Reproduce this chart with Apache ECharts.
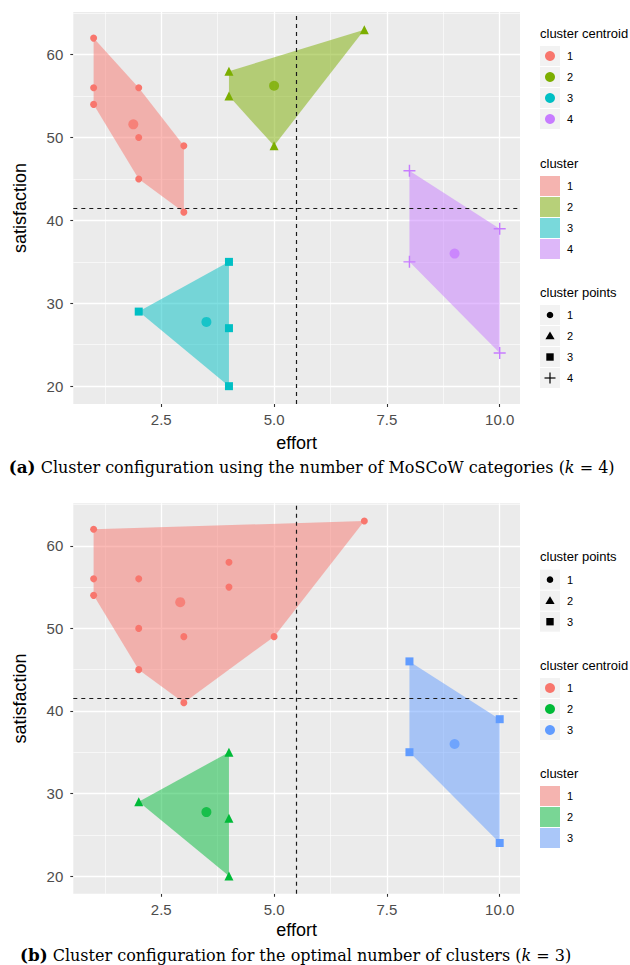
<!DOCTYPE html>
<html>
<head>
<meta charset="utf-8">
<script src="https://cdn.jsdelivr.net/npm/echarts@6/dist/echarts.min.js"></script>
<style>
  html, body { margin: 0; padding: 0; background: #fff; }
  #chart { width: 630px; height: 965px; }
</style>
</head>
<body>
<div id="chart"></div>
<script>
// axis breaks
const xTicks = [2.5, 5, 7.5, 10];
const xTickLabels = ['2.5', '5.0', '7.5', '10.0'];
const yTicks = [20, 30, 40, 50, 60];
const xMinor = [1.25, 3.75, 6.25, 8.75];
const yMinor = [25, 35, 45, 55, 65];
const cutEffort = 5.5;
const cutSatisfaction = 41.5;

// (a) k = 4, points per cluster as [effort, satisfaction]
const clusterA1 = [[1, 62], [1, 56], [1, 54], [2, 56], [2, 50], [2, 45], [3, 49], [3, 41]];
const clusterA2 = [[4, 58], [4, 55], [5, 49], [7, 63]];
const clusterA3 = [[4, 35], [2, 29], [4, 27], [4, 20]];
const clusterA4 = [[8, 46], [8, 35], [10, 39], [10, 24]];
const centroidsA = [[1.88, 51.6], [5, 56.25], [3.5, 27.75], [9, 36]];
const namesA = ['1', '2', '3', '4'];

// (b) k = 3
const clusterB1 = [[1, 62], [1, 56], [1, 54], [2, 56], [2, 50], [2, 45], [3, 49], [3, 41],
  [4, 58], [4, 55], [5, 49], [7, 63]];
const clusterB2 = [[4, 35], [2, 29], [4, 27], [4, 20]];
const clusterB3 = [[8, 46], [8, 35], [10, 39], [10, 24]];
const centroidsB = [[2.92, 53.17], [3.5, 27.75], [9, 36]];
const namesB = ['1', '2', '3'];

const huesA = ['#F8766D', '#7CAE00', '#00BFC4', '#C77CFF'];
const huesB = ['#F8766D', '#00BA38', '#619CFF'];
const PLUS = 'path://M4.4,0H5.6V4.4H10V5.6H5.6V10H4.4V5.6H0V4.4H4.4Z';
const shapes = ['circle', 'triangle', 'rect', PLUS];
const shapeSize = [7, 9, 8, 12];
const FONT = '"Liberation Sans", Arial, sans-serif';
const SERIF = '"DejaVu Serif", serif';

function alpha(hex, a) {
  const n = parseInt(hex.slice(1), 16);
  return `rgba(${n >> 16},${(n >> 8) & 255},${n & 255},${a})`;
}

// convex hull, monotone chain
function hull(points) {
  const p = points.slice().sort((a, b) => a[0] - b[0] || a[1] - b[1]);
  const cross = (o, a, b) => (a[0] - o[0]) * (b[1] - o[1]) - (a[1] - o[1]) * (b[0] - o[0]);
  const lower = [];
  p.forEach((pt) => {
    while (lower.length >= 2 && cross(lower[lower.length - 2], lower[lower.length - 1], pt) <= 0) lower.pop();
    lower.push(pt);
  });
  const upper = [];
  p.slice().reverse().forEach((pt) => {
    while (upper.length >= 2 && cross(upper[upper.length - 2], upper[upper.length - 1], pt) <= 0) upper.pop();
    upper.push(pt);
  });
  return lower.slice(0, -1).concat(upper.slice(0, -1));
}

const grids = [
  { left: 73.3, top: 12, width: 446.7, height: 392 },
  { left: 73.3, top: 503.3, width: 446.7, height: 390.5 },
];

function makeAxes(gi, nameGap) {
  const x = {
    type: 'value', gridIndex: gi, min: 0.55, max: 10.45,
    name: 'effort', nameLocation: 'middle', nameGap,
    nameTextStyle: { fontSize: 18, color: '#000', fontFamily: FONT },
    axisLine: { show: false },
    axisTick: { length: 3, customValues: xTicks, lineStyle: { color: '#333', width: 1.1 } },
    axisLabel: {
      customValues: xTicks, margin: 8, fontSize: 15, color: '#4D4D4D', fontFamily: FONT,
      formatter: (v) => xTickLabels[xTicks.indexOf(v)],
    },
    splitLine: { show: false },
  };
  const y = {
    type: 'value', gridIndex: gi, min: 17.85, max: 65.15,
    name: 'satisfaction', nameLocation: 'middle', nameGap: 44,
    nameTextStyle: { fontSize: 18, color: '#000', fontFamily: FONT },
    axisLine: { show: false },
    axisTick: { length: 3, customValues: yTicks, lineStyle: { color: '#333', width: 1.1 } },
    axisLabel: { customValues: yTicks, margin: 10, fontSize: 15, color: '#4D4D4D', fontFamily: FONT },
    splitLine: { show: false },
  };
  return [x, y];
}

function panelSeries(gi, clusters, centroids, hues) {
  const series = [];
  const gridLines = [];
  xTicks.forEach((v) => gridLines.push({ xAxis: v, lineStyle: { width: 1.3 } }));
  yTicks.forEach((v) => gridLines.push({ yAxis: v, lineStyle: { width: 1.3 } }));
  xMinor.forEach((v) => gridLines.push({ xAxis: v, lineStyle: { width: 0.6 } }));
  yMinor.forEach((v) => gridLines.push({ yAxis: v, lineStyle: { width: 0.6 } }));
  series.push({
    type: 'line', xAxisIndex: gi, yAxisIndex: gi, data: [], silent: true,
    markLine: {
      silent: true, symbol: 'none', z: 1, animation: false,
      label: { show: false },
      lineStyle: { color: '#fff', type: 'solid' },
      data: gridLines,
    },
  });
  clusters.forEach((pts, i) => {
    const h = hull(pts);
    series.push({
      type: 'custom', xAxisIndex: gi, yAxisIndex: gi, z: 2, silent: true,
      data: pts,
      renderItem(params, api) {
        if (params.dataIndex !== 0) return null;
        return {
          type: 'polygon',
          shape: { points: h.map((p) => api.coord(p)) },
          style: { fill: alpha(hues[i], 0.5) },
        };
      },
    });
  });
  clusters.forEach((pts, i) => {
    series.push({
      type: 'scatter', xAxisIndex: gi, yAxisIndex: gi, z: 3, silent: true,
      data: pts, symbol: shapes[i], symbolSize: shapeSize[i],
      itemStyle: { color: hues[i], opacity: 1 },
    });
  });
  series.push({
    type: 'scatter', xAxisIndex: gi, yAxisIndex: gi, z: 3, silent: true,
    data: centroids.map((c, i) => ({ value: c, itemStyle: { color: hues[i] } })),
    symbol: 'circle', symbolSize: 10,
  });
  series.push({
    type: 'line', xAxisIndex: gi, yAxisIndex: gi, data: [], silent: true,
    markLine: {
      silent: true, symbol: 'none', z: 6, animation: false,
      label: { show: false },
      lineStyle: { color: '#1a1a1a', type: [4, 4], width: 1.2 },
      data: [{ xAxis: cutEffort }, { yAxis: cutSatisfaction }],
    },
  });
  return series;
}

// legend blocks drawn as ggplot-like keys
function legendBlock(titleY, title, names, kind, hues) {
  const els = [{
    type: 'text', x: 540, y: titleY,
    style: { text: title, fontSize: 13, fill: '#000', font: `13px ${FONT}`, verticalAlign: 'middle' },
  }];
  names.forEach((n, i) => {
    const top = titleY + 13 + i * 21;
    const cx = 550;
    const cy = top + 10;
    els.push({ type: 'rect', shape: { x: 540, y: top, width: 20, height: 20 }, style: { fill: '#F2F2F2' } });
    if (kind === 'fill') {
      els.push({ type: 'rect', shape: { x: 540, y: top, width: 20, height: 20 }, style: { fill: alpha(hues[i], 0.5) } });
    } else if (kind === 'centroid') {
      els.push({ type: 'circle', shape: { cx, cy, r: 5 }, style: { fill: hues[i] } });
    } else if (i === 0) {
      els.push({ type: 'circle', shape: { cx, cy, r: 3.3 }, style: { fill: '#000' } });
    } else if (i === 1) {
      els.push({ type: 'polygon', shape: { points: [[cx, cy - 4.5], [cx + 4.6, cy + 3.3], [cx - 4.6, cy + 3.3]] }, style: { fill: '#000' } });
    } else if (i === 2) {
      els.push({ type: 'rect', shape: { x: cx - 3.7, y: cy - 3.7, width: 7.4, height: 7.4 }, style: { fill: '#000' } });
    } else {
      els.push({ type: 'rect', shape: { x: cx - 5.5, y: cy - 0.6, width: 11, height: 1.2 }, style: { fill: '#000' } });
      els.push({ type: 'rect', shape: { x: cx - 0.6, y: cy - 5.5, width: 1.2, height: 11 }, style: { fill: '#000' } });
    }
    els.push({
      type: 'text', x: 567, y: cy,
      style: { text: n, font: `11px ${FONT}`, fill: '#000', verticalAlign: 'middle' },
    });
  });
  return els;
}

function caption(x, y, label, body, k) {
  return {
    type: 'text', x, y,
    style: {
      text: `{b|(${label})} ${body} ({i|k} = ${k})`,
      font: `16px ${SERIF}`, fill: '#000', verticalAlign: 'middle',
      rich: {
        b: { fontWeight: 'bold', fontSize: 16.8, fontFamily: SERIF },
        i: { fontStyle: 'italic', fontSize: 16, fontFamily: SERIF },
      },
    },
  };
}

const axesA = makeAxes(0, 30);
const axesB = makeAxes(1, 27);

const chart = echarts.init(document.getElementById('chart'), null, { renderer: 'svg' });
chart.setOption({
  animation: false,
  textStyle: { fontFamily: FONT },
  grid: grids.map((g) => ({ ...g, show: true, backgroundColor: '#EBEBEB', borderWidth: 0 })),
  xAxis: [axesA[0], axesB[0]],
  yAxis: [axesA[1], axesB[1]],
  series: [
    ...panelSeries(0, [clusterA1, clusterA2, clusterA3, clusterA4], centroidsA, huesA),
    ...panelSeries(1, [clusterB1, clusterB2, clusterB3], centroidsB, huesB),
  ],
  graphic: [
    ...legendBlock(33, 'cluster centroid', namesA, 'centroid', huesA),
    ...legendBlock(163, 'cluster', namesA, 'fill', huesA),
    ...legendBlock(292, 'cluster points', namesA, 'points', huesA),
    ...legendBlock(556.7, 'cluster points', namesB, 'points', huesB),
    ...legendBlock(665, 'cluster centroid', namesB, 'centroid', huesB),
    ...legendBlock(773, 'cluster', namesB, 'fill', huesB),
    caption(8.8, 467, 'a', 'Cluster configuration using the number of MoSCoW categories', 4),
    caption(20, 955, 'b', 'Cluster configuration for the optimal number of clusters', 3),
  ],
});
</script>
</body>
</html>
